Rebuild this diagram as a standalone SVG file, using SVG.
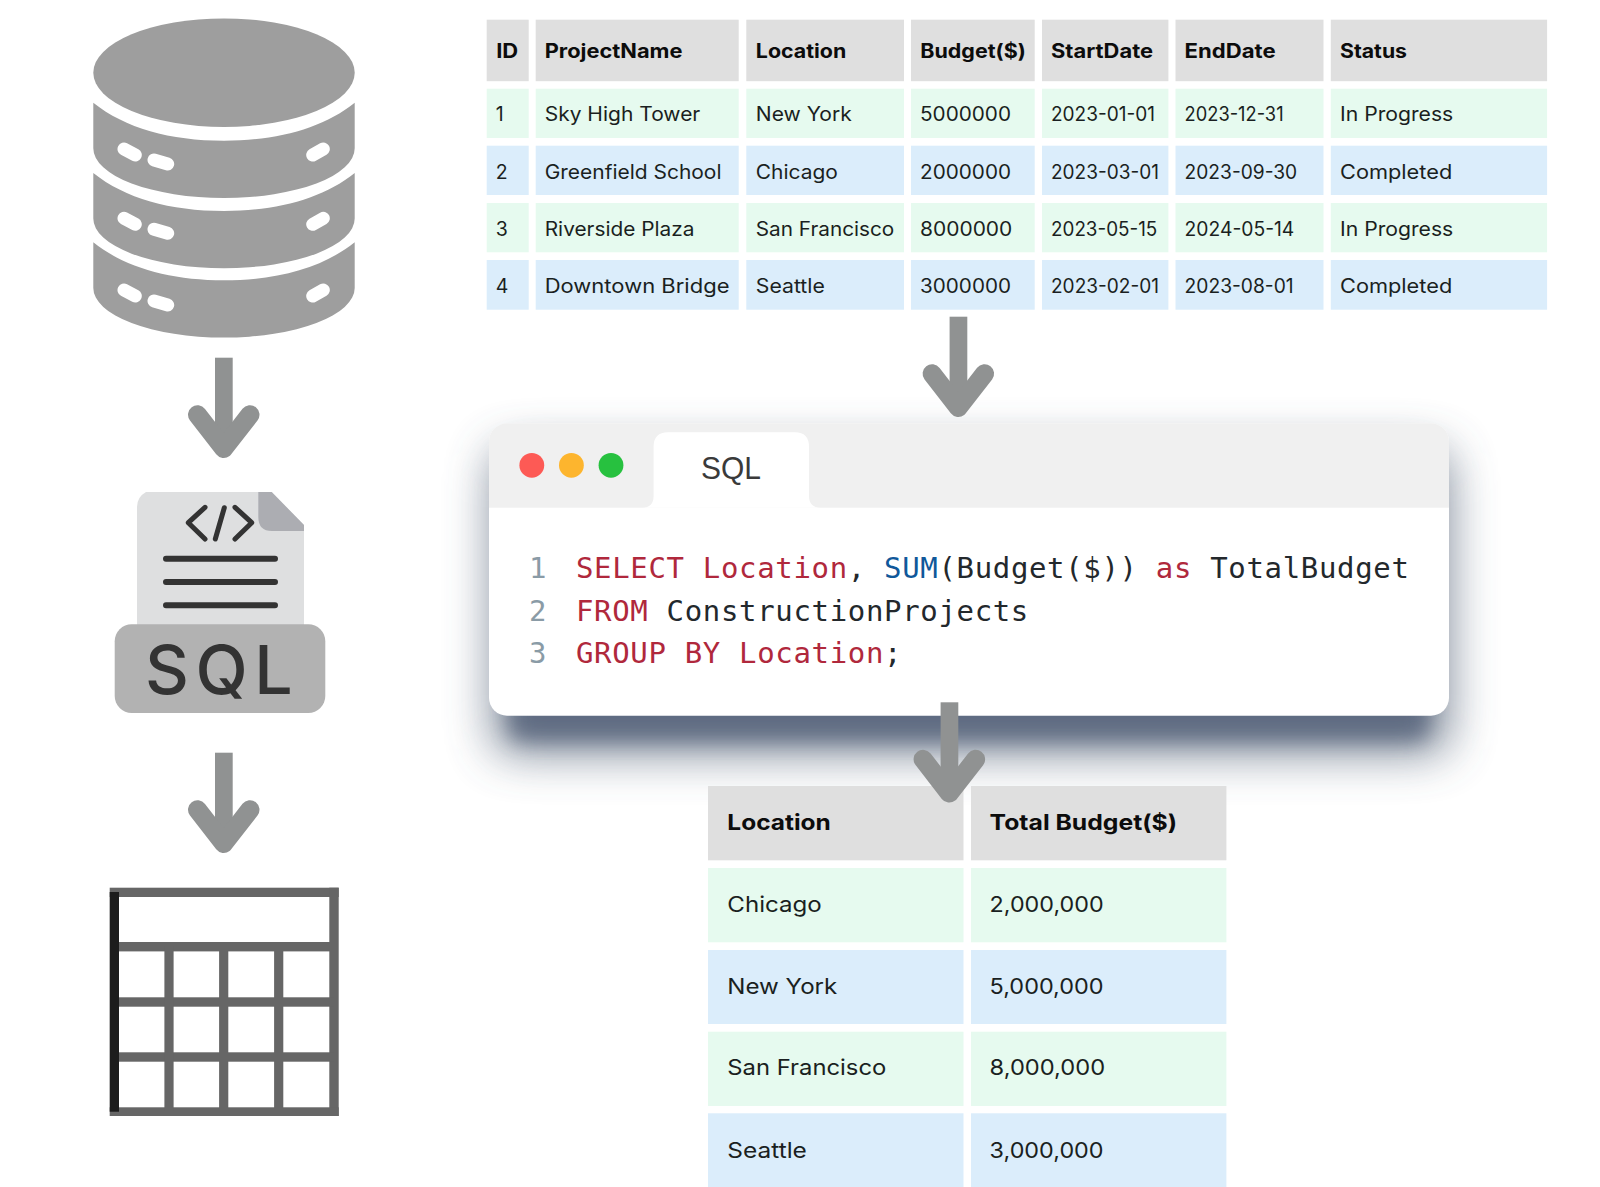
<svg xmlns="http://www.w3.org/2000/svg" xmlns:xlink="http://www.w3.org/1999/xlink" width="1600" height="1187" viewBox="0 0 1600 1187">
<style>
.hd{fill:#dfdfdf}.gr{fill:#e6faef}.bl{fill:#dbedfb}
.t{font-family:"Inter","Liberation Sans",sans-serif;font-size:19.5px;fill:#1a1f21}
.b{font-weight:700;fill:#0c0c0c}
.r{font-size:21.5px}
.code{font-family:"DejaVu Sans Mono","Liberation Mono",monospace;font-size:29px;letter-spacing:.66px;fill:#23282c}
.kw{fill:#b0283c}.fn{fill:#10589a}.ln{fill:#8a9ba6}
.db{fill:#9e9e9e}.pill{stroke:#fff;stroke-width:13;stroke-linecap:round;fill:none}
.ink{stroke:#333;fill:none;stroke-linecap:round;stroke-linejoin:round}
.tb{fill:#666}
.arrow{fill:none;stroke:#909292;stroke-width:19;stroke-linecap:round;stroke-linejoin:round}
.shaft{fill:#909292}
</style>
<defs>
<filter id="sh" x="-20%" y="-30%" width="140%" height="170%"><feGaussianBlur stdDeviation="24"/></filter>
<filter id="sh2" x="-20%" y="-30%" width="140%" height="170%"><feGaussianBlur stdDeviation="10"/></filter>
<g id="pills"><path class="pill" d="M124 149L135.300 155M154 160L167.700 164M312.700 155L323.300 149"/></g>
<g id="arr"><rect class="shaft" x="215" y="357.700" width="17.700" height="92"/><path class="arrow" d="M197.500 414.700L223.700 448.500L250 414.700"/></g>
</defs>
<rect width="1600" height="1187" fill="#fff"/>

<g id="database">
<ellipse class="db" cx="224" cy="72.700" rx="130.700" ry="54.300"/>
<g id="db-layers">
<path class="db" d="M93.300 102.700C125 128 170 140.700 224 140.700C278 140.700 323 128 354.700 102.700V148.300A130.700 49.700 0 0 1 93.300 148.300Z"/>
<path class="db" transform="translate(0 70.200)" d="M93.300 102.700C125 128 170 140.700 224 140.700C278 140.700 323 128 354.700 102.700V148.300A130.700 49.700 0 0 1 93.300 148.300Z"/>
<path class="db" transform="translate(0 139.600)" d="M93.300 102.700C125 128 170 140.700 224 140.700C278 140.700 323 128 354.700 102.700V148.300A130.700 49.700 0 0 1 93.300 148.300Z"/>
</g>
<use href="#pills"/><use href="#pills" y="69.300"/><use href="#pills" y="141"/>
</g>

<g id="sql-file">
<path d="M152 492H271.700L304 525V625H137V507Q137 497 146 492Z" fill="#dedfe0"/>
<path d="M258.300 492H271.700L304 525V531H272Q258.300 531 258.300 517Z" fill="#acadb2"/>
<path class="ink" stroke-width="5" d="M205 507.300L188.300 522.700L205 539M224.300 507.700L215.300 539M235 507.300L251.700 522.700L235 539"/>
<path class="ink" stroke-width="6" d="M166 558.700H275M166 582H275M166 605.300H275"/>
<rect x="114.700" y="624.300" width="210.600" height="88.700" rx="17" fill="#b2b2b2"/>
<text x="145" y="694" font-family="Inter,'Liberation Sans',sans-serif" font-size="68" font-weight="500" letter-spacing="6.500" fill="#333">SQL</text>
</g>

<g id="result-icon">
<rect class="tb" x="109.700" y="887.700" width="229" height="9.300"/>
<rect class="tb" x="329.300" y="887.700" width="9.400" height="228.300"/>
<rect class="tb" x="109.700" y="1107.300" width="229" height="8.700"/>
<rect class="tb" x="114" y="942" width="220" height="9.400"/>
<rect class="tb" x="114" y="997.300" width="220" height="9.400"/>
<rect class="tb" x="114" y="1052.300" width="220" height="9.400"/>
<rect class="tb" x="164.400" y="946" width="9.200" height="165"/>
<rect class="tb" x="219.100" y="946" width="9.200" height="165"/>
<rect class="tb" x="274.100" y="946" width="9.200" height="165"/>
<rect x="109.700" y="892" width="9.300" height="219.700" fill="#1c1c1c"/>
</g>

<g id="source-table">
<rect class="hd" x="486.700" y="19.700" width="42" height="61.500"/><rect class="hd" x="535.700" y="19.700" width="203" height="61.500"/><rect class="hd" x="746.300" y="19.700" width="157.700" height="61.500"/><rect class="hd" x="911" y="19.700" width="123.700" height="61.500"/><rect class="hd" x="1042" y="19.700" width="126.400" height="61.500"/><rect class="hd" x="1175.500" y="19.700" width="148" height="61.500"/><rect class="hd" x="1330.800" y="19.700" width="216.300" height="61.500"/>
<rect class="gr" x="486.700" y="88.700" width="42" height="49.300"/><rect class="gr" x="535.700" y="88.700" width="203" height="49.300"/><rect class="gr" x="746.300" y="88.700" width="157.700" height="49.300"/><rect class="gr" x="911" y="88.700" width="123.700" height="49.300"/><rect class="gr" x="1042" y="88.700" width="126.400" height="49.300"/><rect class="gr" x="1175.500" y="88.700" width="148" height="49.300"/><rect class="gr" x="1330.800" y="88.700" width="216.300" height="49.300"/>
<rect class="bl" x="486.700" y="145.700" width="42" height="49.300"/><rect class="bl" x="535.700" y="145.700" width="203" height="49.300"/><rect class="bl" x="746.300" y="145.700" width="157.700" height="49.300"/><rect class="bl" x="911" y="145.700" width="123.700" height="49.300"/><rect class="bl" x="1042" y="145.700" width="126.400" height="49.300"/><rect class="bl" x="1175.500" y="145.700" width="148" height="49.300"/><rect class="bl" x="1330.800" y="145.700" width="216.300" height="49.300"/>
<rect class="gr" x="486.700" y="203" width="42" height="49.300"/><rect class="gr" x="535.700" y="203" width="203" height="49.300"/><rect class="gr" x="746.300" y="203" width="157.700" height="49.300"/><rect class="gr" x="911" y="203" width="123.700" height="49.300"/><rect class="gr" x="1042" y="203" width="126.400" height="49.300"/><rect class="gr" x="1175.500" y="203" width="148" height="49.300"/><rect class="gr" x="1330.800" y="203" width="216.300" height="49.300"/>
<rect class="bl" x="486.700" y="260" width="42" height="49.700"/><rect class="bl" x="535.700" y="260" width="203" height="49.700"/><rect class="bl" x="746.300" y="260" width="157.700" height="49.700"/><rect class="bl" x="911" y="260" width="123.700" height="49.700"/><rect class="bl" x="1042" y="260" width="126.400" height="49.700"/><rect class="bl" x="1175.500" y="260" width="148" height="49.700"/><rect class="bl" x="1330.800" y="260" width="216.300" height="49.700"/>
<text class="t b" x="496.200" y="58.300" textLength="22" lengthAdjust="spacingAndGlyphs">ID</text>
<text class="t b" x="544.700" y="58.300" textLength="137.800" lengthAdjust="spacingAndGlyphs">ProjectName</text>
<text class="t b" x="755.800" y="58.300" textLength="90.500" lengthAdjust="spacingAndGlyphs">Location</text>
<text class="t b" x="920.300" y="58.300" textLength="105.500" lengthAdjust="spacingAndGlyphs">Budget($)</text>
<text class="t b" x="1051" y="58.300" textLength="102" lengthAdjust="spacingAndGlyphs">StartDate</text>
<text class="t b" x="1184.600" y="58.300" textLength="91" lengthAdjust="spacingAndGlyphs">EndDate</text>
<text class="t b" x="1340" y="58.300" textLength="67" lengthAdjust="spacingAndGlyphs">Status</text>
<text class="t" x="495.800" y="120.700">1</text><text class="t" x="544.700" y="120.700" textLength="155.600" lengthAdjust="spacingAndGlyphs">Sky High Tower</text><text class="t" x="755.800" y="120.700" textLength="96" lengthAdjust="spacingAndGlyphs">New York</text><text class="t" x="920" y="120.700" textLength="91" lengthAdjust="spacingAndGlyphs">5000000</text><text class="t" x="1051" y="120.700" textLength="104" lengthAdjust="spacingAndGlyphs">2023-01-01</text><text class="t" x="1184.600" y="120.700" textLength="99" lengthAdjust="spacingAndGlyphs">2023-12-31</text><text class="t" x="1340" y="120.700" textLength="113.300" lengthAdjust="spacingAndGlyphs">In Progress</text>
<text class="t" x="495.800" y="178.700">2</text><text class="t" x="544.700" y="178.700" textLength="176.800" lengthAdjust="spacingAndGlyphs">Greenfield School</text><text class="t" x="755.800" y="178.700" textLength="82" lengthAdjust="spacingAndGlyphs">Chicago</text><text class="t" x="920" y="178.700" textLength="91" lengthAdjust="spacingAndGlyphs">2000000</text><text class="t" x="1051" y="178.700" textLength="108" lengthAdjust="spacingAndGlyphs">2023-03-01</text><text class="t" x="1184.600" y="178.700" textLength="112.600" lengthAdjust="spacingAndGlyphs">2023-09-30</text><text class="t" x="1340" y="178.700" textLength="112.200" lengthAdjust="spacingAndGlyphs">Completed</text>
<text class="t" x="495.800" y="235.700">3</text><text class="t" x="544.700" y="235.700" textLength="149.800" lengthAdjust="spacingAndGlyphs">Riverside Plaza</text><text class="t" x="755.800" y="235.700" textLength="138.500" lengthAdjust="spacingAndGlyphs">San Francisco</text><text class="t" x="920" y="235.700" textLength="92.300" lengthAdjust="spacingAndGlyphs">8000000</text><text class="t" x="1051" y="235.700" textLength="106.300" lengthAdjust="spacingAndGlyphs">2023-05-15</text><text class="t" x="1184.600" y="235.700" textLength="109.700" lengthAdjust="spacingAndGlyphs">2024-05-14</text><text class="t" x="1340" y="235.700" textLength="113.300" lengthAdjust="spacingAndGlyphs">In Progress</text>
<text class="t" x="495.800" y="292.700">4</text><text class="t" x="544.700" y="292.700" textLength="184.800" lengthAdjust="spacingAndGlyphs">Downtown Bridge</text><text class="t" x="755.800" y="292.700" textLength="69" lengthAdjust="spacingAndGlyphs">Seattle</text><text class="t" x="920" y="292.700" textLength="91" lengthAdjust="spacingAndGlyphs">3000000</text><text class="t" x="1051" y="292.700" textLength="108" lengthAdjust="spacingAndGlyphs">2023-02-01</text><text class="t" x="1184.600" y="292.700" textLength="109" lengthAdjust="spacingAndGlyphs">2023-08-01</text><text class="t" x="1340" y="292.700" textLength="112.200" lengthAdjust="spacingAndGlyphs">Completed</text>
</g>

<g id="sql-window">
<rect x="494" y="450" width="954" height="302" rx="18" fill="#4a586e" opacity=".75" filter="url(#sh)"/>
<rect x="510" y="690" width="918" height="50" rx="12" fill="#55627a" opacity=".75" filter="url(#sh2)"/>
<rect x="489" y="423.300" width="960" height="292.400" rx="18" fill="#fff"/>
<path d="M489 507.700V441.300A18 18 0 0 1 507 423.300H1431A18 18 0 0 1 1449 441.300V507.700Z" fill="#f0f0f0"/>
<path d="M642 507.700Q653.600 507.700 653.600 496V447Q653.600 432.300 668 432.300H795Q809 432.300 809 447V496Q809 507.700 821 507.700Z" fill="#fff"/>
<circle cx="531.800" cy="465.300" r="12.400" fill="#fd5a55"/>
<circle cx="571.400" cy="465.300" r="12.400" fill="#fdb52e"/>
<circle cx="611" cy="465.300" r="12.400" fill="#27c13f"/>
<text x="701" y="479.300" font-family="'Liberation Sans',Arial,sans-serif" font-size="31" fill="#3a3a3a" textLength="60" lengthAdjust="spacingAndGlyphs">SQL</text>
<text class="code" y="578.300"><tspan class="ln" x="529">1</tspan><tspan class="kw" x="576">SELECT Location</tspan>, <tspan class="fn">SUM</tspan>(Budget($)) <tspan class="kw">as</tspan> TotalBudget</text>
<text class="code" y="621"><tspan class="ln" x="529">2</tspan><tspan class="kw" x="576">FROM</tspan> ConstructionProjects</text>
<text class="code" y="663.300"><tspan class="ln" x="529">3</tspan><tspan class="kw" x="576">GROUP BY Location</tspan>;</text>
</g>

<g id="result-table">
<rect class="hd" x="708" y="786" width="255.500" height="74.300"/><rect class="hd" x="971" y="786" width="255.400" height="74.300"/>
<rect class="gr" x="708" y="868" width="255.500" height="74.300"/><rect class="gr" x="971" y="868" width="255.400" height="74.300"/>
<rect class="bl" x="708" y="950" width="255.500" height="74"/><rect class="bl" x="971" y="950" width="255.400" height="74"/>
<rect class="gr" x="708" y="1031.700" width="255.500" height="74.300"/><rect class="gr" x="971" y="1031.700" width="255.400" height="74.300"/>
<rect class="bl" x="708" y="1113.300" width="255.500" height="73.700"/><rect class="bl" x="971" y="1113.300" width="255.400" height="73.700"/>
<text class="t r b" x="727.300" y="830" textLength="103.500" lengthAdjust="spacingAndGlyphs">Location</text><text class="t r b" x="989.600" y="830" textLength="187.500" lengthAdjust="spacingAndGlyphs">Total Budget($)</text>
<text class="t r" x="727.300" y="911.700" textLength="94.400" lengthAdjust="spacingAndGlyphs">Chicago</text><text class="t r" x="989.600" y="911.700" textLength="114" lengthAdjust="spacingAndGlyphs">2,000,000</text>
<text class="t r" x="727.300" y="993.500" textLength="110" lengthAdjust="spacingAndGlyphs">New York</text><text class="t r" x="989.600" y="993.500" textLength="114" lengthAdjust="spacingAndGlyphs">5,000,000</text>
<text class="t r" x="727.300" y="1075" textLength="159" lengthAdjust="spacingAndGlyphs">San Francisco</text><text class="t r" x="989.600" y="1075" textLength="115.500" lengthAdjust="spacingAndGlyphs">8,000,000</text>
<text class="t r" x="727.300" y="1157.700" textLength="79.600" lengthAdjust="spacingAndGlyphs">Seattle</text><text class="t r" x="989.600" y="1157.700" textLength="114" lengthAdjust="spacingAndGlyphs">3,000,000</text>
</g>

<g id="connectors">
<use href="#arr"/>
<use href="#arr" y="395"/>
<use href="#arr" x="734.600" y="-41"/>
<use href="#arr" x="725.600" y="344.600"/>
</g>
</svg>
